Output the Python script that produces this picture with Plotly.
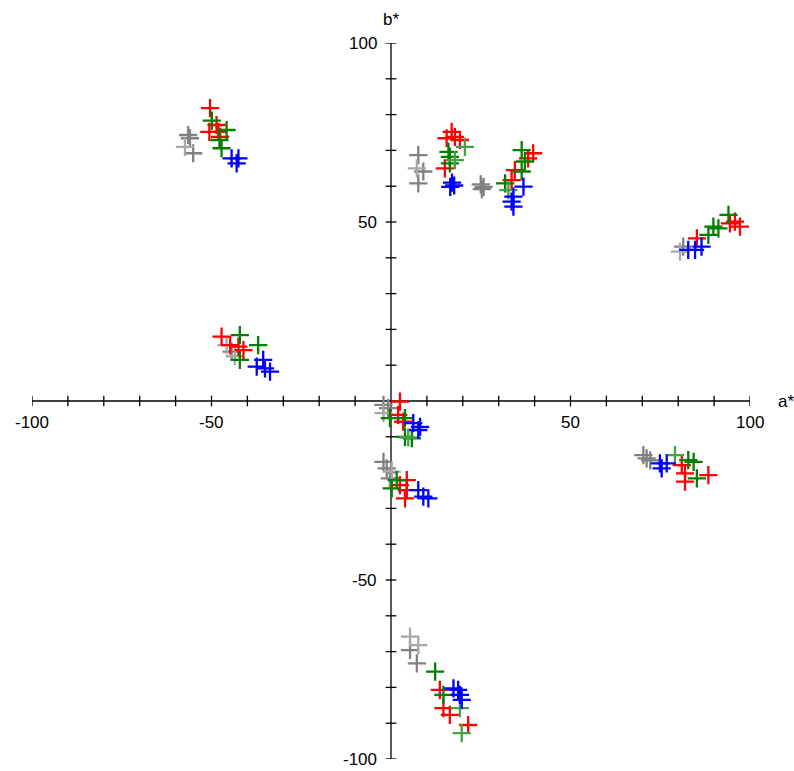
import plotly.graph_objects as go

# ---- data (a*, b*) per series ----
gray_a = [-56.5, -56.0, -55.1, 7.6, 9.0, 7.6, 25.0, 25.8, 25.3, 81.4, -44.4, -2.1, -0.8, -2.1, -1.2, -0.3, 70.3, 71.2, 72.2, 5.3, 7.2]
gray_b = [74.3, 73.4, 69.2, 68.7, 64.1, 60.8, 60.5, 59.8, 59.2, 43.1, 13.8, -1.1, -2.0, -17.0, -18.8, -21.6, -15.1, -16.0, -16.6, -69.6, -73.3]

lgray_a = [-57.4, 7.2, 80.5, -45.8, -43.5, -2.1, 0.2, 5.3, 7.6]
lgray_b = [71.0, 65.0, 41.7, 15.6, 12.5, -3.4, -19.7, -65.8, -68.2]

red_a = [-50.4, -48.6, -50.6, -48.1, -47.6, 16.9, 15.5, 17.8, 19.2, 15.0, 39.6, 38.2, 34.5, 33.6,
         85.2, 94.4, 95.8, 97.2, -47.2, -44.8, -42.5, -41.1, 2.5, 2.0, 3.4, 4.4, 2.5, 4.4, 3.9,
         81.0, 81.9, 81.9, 88.4, 13.6, 14.6, 16.4, 21.5]
red_b = [81.8, 77.1, 75.2, 75.2, 73.8, 75.2, 73.4, 73.8, 72.9, 65.0, 69.2, 67.8, 64.5, 61.7,
         45.4, 49.6, 50.1, 48.7, 18.0, 15.6, 15.2, 14.2, -0.2, -3.9, -5.8, -22.1, -23.5, -24.9, -27.2,
         -17.9, -20.2, -22.5, -20.7, -80.7, -85.8, -87.7, -90.5]

green_a = [-49.9, -45.8, -47.8, -47.2, 16.0, 16.4, 16.4, 36.4, 37.3, 36.4, 31.8, 88.4, 89.8, 91.2, 94.0,
           -42.1, -37.0, -42.1, -0.3, 3.9, 3.9, 5.8, 1.6, 0.2, 82.8, 84.3, 85.2, 12.3, 14.6]
green_b = [78.3, 75.7, 72.9, 70.6, 69.6, 68.2, 66.4, 70.1, 66.9, 64.1, 60.8, 46.4, 48.7, 48.2, 52.0,
           18.4, 15.6, 11.5, -4.8, -4.8, -10.0, -10.4, -22.1, -24.4, -16.5, -17.0, -21.6, -75.6, -82.1]

lgreen_a = [20.6, 17.8, 32.7, 4.8, 79.1, 19.2, 19.7]
lgreen_b = [71.0, 67.3, 58.9, -10.2, -15.1, -85.8, -92.8]

blue_a = [-44.4, -42.5, -43.0, 17.0, 17.6, 16.5, 36.9, 34.1, 33.6, 34.1, 82.8, 84.7, 86.5,
          -35.6, -37.4, -35.1, -33.7, 6.2, 8.1, 7.6, 7.6, 9.0, 10.4, 74.9, 75.4, 76.8,
          17.4, 18.7, 19.2, 19.7]
blue_b = [67.8, 67.8, 66.4, 61.0, 60.2, 59.8, 59.9, 57.1, 55.7, 54.3, 42.2, 42.2, 43.1,
          11.5, 9.6, 9.1, 8.2, -6.2, -7.2, -8.1, -24.9, -26.7, -27.2, -17.4, -18.8, -17.4,
          -80.3, -80.7, -82.1, -83.5]

tick_values = list(range(-100, 101, 10))
label_values = [-100, -50, 50, 100]

series = [
    ("gray", gray_a, gray_b, "rgb(128,128,128)"),
    ("light gray", lgray_a, lgray_b, "rgb(168,168,168)"),
    ("red", red_a, red_b, "rgb(255,0,0)"),
    ("green", green_a, green_b, "rgb(0,128,0)"),
    ("light green", lgreen_a, lgreen_b, "rgb(70,160,70)"),
    ("blue", blue_a, blue_b, "rgb(0,0,255)"),
]

fig = go.Figure()
for name, xa, yb, col in series:
    fig.add_trace(go.Scatter(
        x=xa, y=yb, mode="markers", name=name,
        marker=dict(symbol="cross-thin", size=13, line=dict(color=col, width=2.3), color=col),
    ))

shapes = []
axis_line = dict(color="black", width=1.3)
shapes.append(dict(type="line", xref="x", yref="y", x0=-100, x1=100, y0=0, y1=0, line=axis_line, layer="below"))
shapes.append(dict(type="line", xref="x", yref="y", x0=0, x1=0, y0=-100, y1=100, line=axis_line, layer="below"))
tl = 1.5  # tick half-length in data units
for v in tick_values:
    if v != 0:
        shapes.append(dict(type="line", xref="x", yref="y", x0=v, x1=v, y0=-tl, y1=tl, line=axis_line, layer="below"))
        shapes.append(dict(type="line", xref="x", yref="y", x0=-tl, x1=tl, y0=v, y1=v, line=axis_line, layer="below"))

font = dict(family="Liberation Sans, Arial, sans-serif", size=17, color="black")
annotations = []
for v in label_values:
    annotations.append(dict(x=v, y=0, xref="x", yref="y", text=str(v), showarrow=False,
                            xanchor="center", yanchor="top", yshift=-10, font=font))
    annotations.append(dict(x=0, y=v, xref="x", yref="y", text=str(v), showarrow=False,
                            xanchor="right", yanchor="middle", xshift=-12, font=font))
annotations.append(dict(x=100, y=0, xref="x", yref="y", text="a*", showarrow=False,
                        xanchor="left", yanchor="middle", xshift=26, font=font))
annotations.append(dict(x=0, y=100, xref="x", yref="y", text="b*", showarrow=False,
                        xanchor="right", yanchor="bottom", xshift=10, yshift=12, font=font))

fig.update_layout(
    width=794, height=771,
    margin=dict(l=32, r=44, t=43, b=12),
    plot_bgcolor="white", paper_bgcolor="white",
    showlegend=False,
    xaxis=dict(range=[-100, 100], visible=False),
    yaxis=dict(range=[-100, 100], visible=False),
    shapes=shapes, annotations=annotations,
)
fig.write_html("out.html", config={"displayModeBar": False},
               post_script="document.body.style.margin='0px'; document.body.style.overflow='hidden';")
